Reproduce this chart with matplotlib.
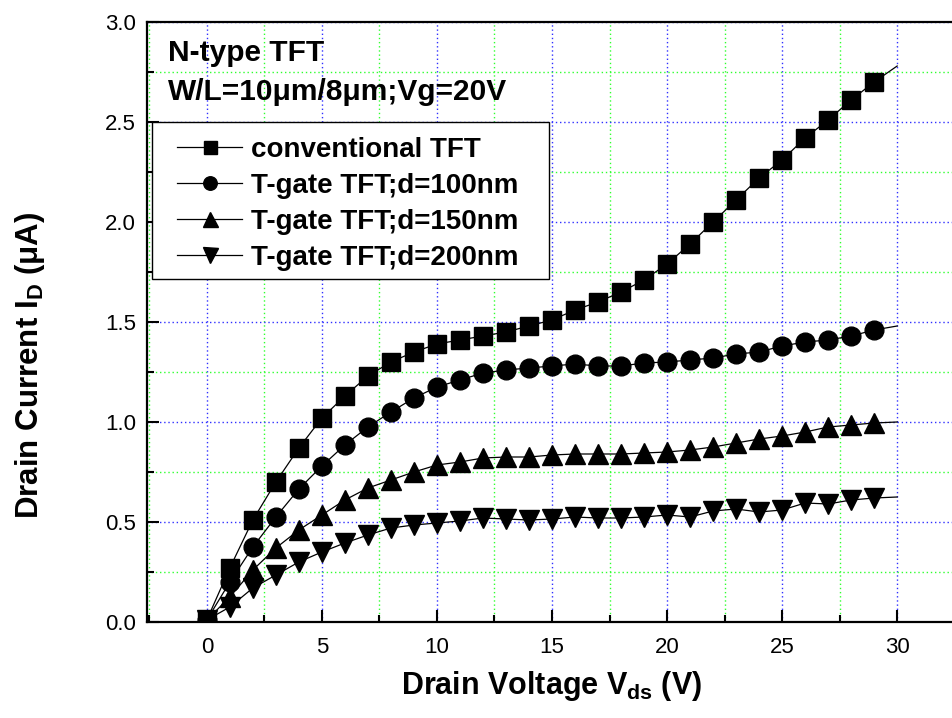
import matplotlib
matplotlib.use("Agg")
import matplotlib.pyplot as plt
from matplotlib.patches import Rectangle
from matplotlib.ticker import MultipleLocator

plt.rcParams['font.family'] = ['Liberation Sans', 'DejaVu Sans']
plt.rcParams['mathtext.fontset'] = 'custom'
plt.rcParams['mathtext.rm'] = 'Liberation Sans'
plt.rcParams['mathtext.bf'] = 'Liberation Sans:bold'

# drain voltage sweep (V)
vds = list(range(31))

# drain current (uA) for each device
conventional = [0.01, 0.27, 0.51, 0.70, 0.87, 1.02, 1.13, 1.23, 1.30, 1.35,
                1.39, 1.41, 1.43, 1.45, 1.48, 1.51, 1.56, 1.60, 1.65, 1.71,
                1.79, 1.89, 2.00, 2.11, 2.22, 2.31, 2.42, 2.51, 2.61, 2.70,
                2.78]
tgate_100 = [0.01, 0.20, 0.375, 0.525, 0.665, 0.78, 0.885, 0.975, 1.05, 1.12,
             1.175, 1.21, 1.245, 1.26, 1.27, 1.28, 1.29, 1.28, 1.28, 1.295,
             1.30, 1.31, 1.32, 1.34, 1.35, 1.38, 1.40, 1.41, 1.43, 1.46,
             1.48]
tgate_150 = [0.01, 0.125, 0.26, 0.37, 0.46, 0.535, 0.61, 0.67, 0.71, 0.75,
             0.785, 0.80, 0.82, 0.825, 0.825, 0.835, 0.84, 0.84, 0.84, 0.845,
             0.85, 0.86, 0.875, 0.895, 0.915, 0.93, 0.95, 0.975, 0.985, 0.995,
             1.0]
tgate_200 = [0.01, 0.075, 0.17, 0.235, 0.30, 0.35, 0.395, 0.435, 0.47, 0.485,
             0.495, 0.505, 0.52, 0.515, 0.51, 0.515, 0.525, 0.52, 0.52, 0.525,
             0.535, 0.525, 0.555, 0.565, 0.55, 0.56, 0.595, 0.59, 0.61, 0.62,
             0.625]

series = [
    (conventional, 's', 13, 'conventional TFT'),
    (tgate_100, 'o', 13.5, 'T-gate TFT;d=100nm'),
    (tgate_150, '^', 15, 'T-gate TFT;d=150nm'),
    (tgate_200, 'v', 15, 'T-gate TFT;d=200nm'),
]

W, H = 952, 718
fig = plt.figure(figsize=(W / 100, H / 100), dpi=100)
ax = fig.add_axes([147 / W, 1 - 622 / H, (957 - 147) / W, 600 / H])

for ys, mk, ms, lab in series:
    ax.plot(vds, ys, color='black', lw=0.9, marker=mk, ms=ms,
            mfc='black', mec='black', markevery=list(range(30)), label=lab,
            zorder=3)

ax.set_xlim(-2.6, 32.6)
ax.set_ylim(0, 3.0)
ax.set_xticks(range(0, 31, 5))
ax.xaxis.set_minor_locator(MultipleLocator(2.5))
ax.yaxis.set_major_locator(MultipleLocator(0.5))
ax.yaxis.set_minor_locator(MultipleLocator(0.25))

ax.grid(which='major', color='#3030ff', linestyle=(0, (1, 2)), lw=1.0, zorder=0)
ax.grid(which='minor', color='#30ff30', linestyle=(0, (1, 2)), lw=1.0, zorder=0)
ax.set_axisbelow(True)

for s in ax.spines.values():
    s.set_linewidth(1.6)
ax.spines['right'].set_visible(False)

ax.tick_params(which='major', direction='in', length=8.5, width=1.5,
               labelsize=16, pad=8)
ax.tick_params(which='minor', direction='in', length=5, width=1.5)
ax.tick_params(axis='x', which='major', pad=11)
ax.tick_params(top=False, right=False, which='both')
ax.set_yticklabels(['%.1f' % v for v in ax.get_yticks()])

ax.set_xlabel(r'Drain Voltage V$_{\mathbf{ds}}$ (V)', fontsize=22,
              fontweight='bold', labelpad=8)
fig.text(30 / W, 1 - 365 / H, r'Drain Current I$_{\mathbf{D}}$ (μA)',
         fontsize=22.5, fontweight='bold', rotation=90, ha='center', va='center')

fig.text(168 / W, 1 - 61 / H, 'N-type TFT', fontsize=21.5,
         fontweight='bold', va='baseline')
fig.text(168 / W, 1 - 100 / H, 'W/L=10μm/8μm;Vg=20V', fontsize=21.5,
         fontweight='bold', va='baseline')

# legend box drawn separately so its padding can be wider than tall
box = Rectangle((152 / W, 1 - 279 / H), (549 - 152) / W, (279 - 122) / H,
                transform=fig.transFigure, facecolor='white',
                edgecolor='black', lw=1.0, zorder=4)
ax.add_patch(box)
box.set_clip_on(False)

leg = ax.legend(loc='upper left', bbox_to_anchor=(177 / W, 1 - 137 / H),
                bbox_transform=fig.transFigure, borderaxespad=0, borderpad=0,
                prop={'weight': 'bold', 'size': 20}, markerscale=0.72,
                handlelength=2.34, handletextpad=0.32, labelspacing=0.36,
                frameon=False, numpoints=1)
leg.set_zorder(5)

fig.savefig('out.png', dpi=100)
